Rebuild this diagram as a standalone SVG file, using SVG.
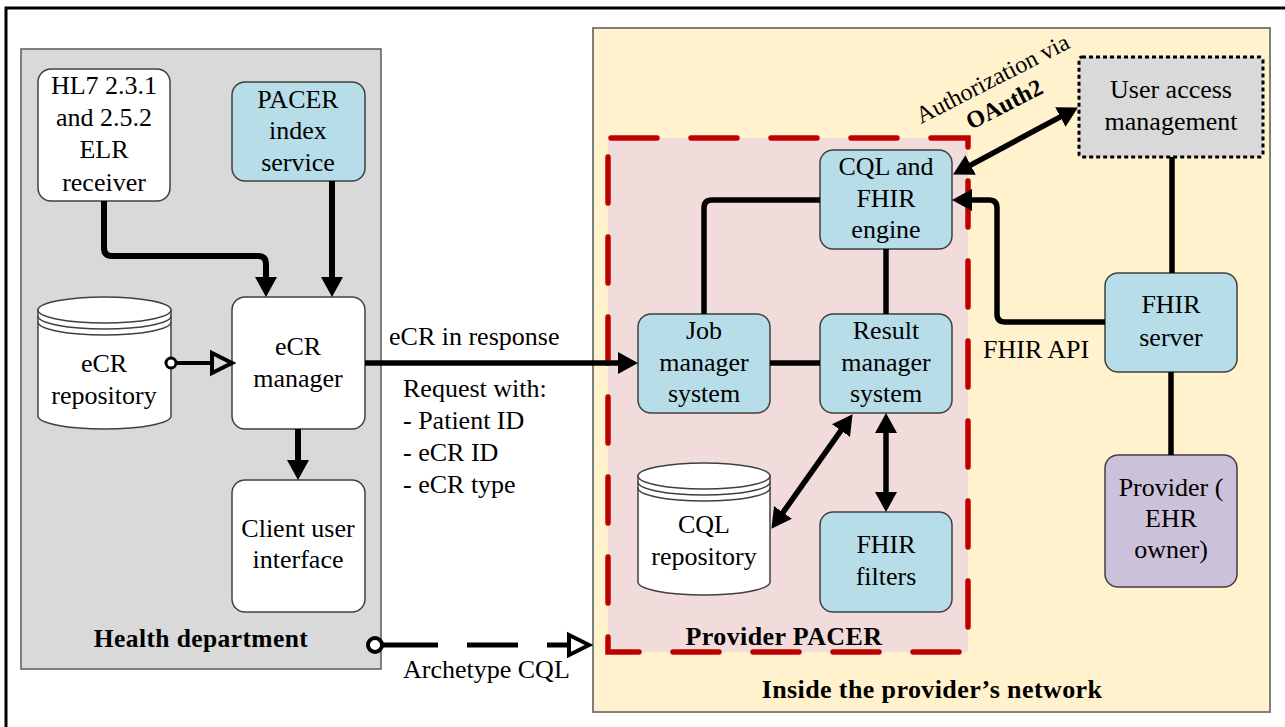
<svg xmlns="http://www.w3.org/2000/svg" width="1285" height="727" viewBox="0 0 1285 727" font-family="'Liberation Serif', 'Tinos', 'Times New Roman', serif">
<style>
text{font-family:'Liberation Serif','Tinos','Times New Roman',serif;font-size:26px;fill:#000}
.c{text-anchor:middle}
.b{font-weight:bold;letter-spacing:0.4px}
.node{stroke:#404040;stroke-width:1.5}
.blue{fill:#b7dde8}
.white{fill:#fff}
.conn{fill:none;stroke:#000;stroke-width:5.5}
</style>
<defs>
<marker id="ah" markerUnits="userSpaceOnUse" viewBox="0 0 20 22" refX="9" refY="11" markerWidth="20" markerHeight="22" orient="auto-start-reverse">
<path d="M0,0 L20,11 L0,22 z" fill="#000"/>
</marker>
<marker id="open" markerUnits="userSpaceOnUse" viewBox="-3 -3 27 28" refX="0" refY="11" markerWidth="27" markerHeight="28" orient="auto">
<path d="M0,1 L20,11 L0,21 z" fill="none" stroke="#000" stroke-width="4" stroke-linejoin="miter"/>
</marker>
</defs>
<rect x="6" y="8" width="1300" height="800" fill="#fff" stroke="#000" stroke-width="3"/>
<g id="health-department">
<rect x="21" y="49" width="360" height="620" fill="#d9d9d9" stroke="#595959" stroke-width="1.5"/>
<text class="c b" x="201" y="647" style="font-size:25.5px">Health department</text>
</g>
<g id="provider-network">
<rect x="593" y="28" width="677" height="684" fill="#fff2cc" stroke="#7f7f7f" stroke-width="2"/>
<text class="c b" x="932" y="698">Inside the provider’s network</text>
</g>
<g id="provider-pacer">
<rect x="608" y="138" width="360" height="514" fill="#f2dcdb"/>
<rect x="608" y="138" width="360" height="514" fill="none" stroke="#c00000" stroke-width="5.5" stroke-dasharray="46 34" stroke-dashoffset="-3" stroke-linecap="round"/>
<text class="c b" x="784" y="645">Provider PACER</text>
</g>
<g id="hl7-receiver">
<rect class="node white" x="38" y="69" width="132" height="132" rx="13"/>
<text class="c" x="104" y="94">HL7 2.3.1</text>
<text class="c" x="104" y="126">and 2.5.2</text>
<text class="c" x="104" y="158">ELR</text>
<text class="c" x="104" y="191">receiver</text>
</g>
<g id="pacer-index-service">
<rect class="node blue" x="232" y="82" width="133" height="99" rx="13"/>
<text class="c" x="298" y="108">PACER</text>
<text class="c" x="298" y="139">index</text>
<text class="c" x="298" y="171">service</text>
</g>
<g id="ecr-repository">
<path class="node white" d="M38,310 V416 A66.5,13 0 0 0 171,416 V310 z"/>
<ellipse class="node white" cx="104.5" cy="310" rx="66.5" ry="13"/>
<path d="M38,316 A66.5,13 0 0 0 171,316 M38,322 A66.5,13 0 0 0 171,322" fill="none" stroke="#404040" stroke-width="1.5"/>
<text class="c" x="104" y="372">eCR</text>
<text class="c" x="104" y="404">repository</text>
</g>
<g id="ecr-manager">
<rect class="node white" x="232" y="297" width="133" height="132" rx="13"/>
<text class="c" x="298" y="355">eCR</text>
<text class="c" x="298" y="387">manager</text>
</g>
<g id="client-ui">
<rect class="node white" x="232" y="480" width="133" height="132" rx="13"/>
<text class="c" x="298" y="537">Client user</text>
<text class="c" x="298" y="568">interface</text>
</g>
<g id="cql-fhir-engine">
<rect class="node blue" x="820" y="150" width="132" height="99" rx="13"/>
<text class="c" x="886" y="175">CQL and</text>
<text class="c" x="886" y="207">FHIR</text>
<text class="c" x="886" y="238">engine</text>
</g>
<g id="job-manager">
<rect class="node blue" x="638" y="314" width="132" height="99" rx="13"/>
<text class="c" x="704" y="339">Job</text>
<text class="c" x="704" y="371">manager</text>
<text class="c" x="704" y="402">system</text>
</g>
<g id="result-manager">
<rect class="node blue" x="820" y="314" width="132" height="99" rx="13"/>
<text class="c" x="886" y="339">Result</text>
<text class="c" x="886" y="371">manager</text>
<text class="c" x="886" y="402">system</text>
</g>
<g id="cql-repository">
<path class="node white" d="M638,476 V582 A66,13 0 0 0 770,582 V476 z"/>
<ellipse class="node white" cx="704" cy="476" rx="66" ry="13"/>
<path d="M638,482 A66,13 0 0 0 770,482 M638,488 A66,13 0 0 0 770,488" fill="none" stroke="#404040" stroke-width="1.5"/>
<text class="c" x="704" y="533">CQL</text>
<text class="c" x="704" y="565">repository</text>
</g>
<g id="fhir-filters">
<rect class="node blue" x="820" y="512" width="132" height="100" rx="13"/>
<text class="c" x="886" y="553">FHIR</text>
<text class="c" x="886" y="585">filters</text>
</g>
<g id="user-access-management">
<rect x="1079" y="57" width="184" height="100" rx="3" fill="#d9d9d9" stroke="#000" stroke-width="3" stroke-dasharray="4 3"/>
<text class="c" x="1171" y="98">User access</text>
<text class="c" x="1171" y="130">management</text>
</g>
<g id="fhir-server">
<rect class="node blue" x="1105" y="273" width="132" height="99" rx="13"/>
<text class="c" x="1171" y="313">FHIR</text>
<text class="c" x="1171" y="346">server</text>
</g>
<g id="provider-ehr-owner">
<rect class="node" x="1105" y="455" width="132" height="132" rx="13" fill="#ccc1da"/>
<text class="c" x="1171" y="496">Provider (</text>
<text class="c" x="1171" y="527">EHR</text>
<text class="c" x="1171" y="558">owner)</text>
</g>
<g id="connectors">
<path class="conn" style="stroke-width:6" d="M104,201 V248 Q104,256 112,256 H258 Q266,256 266,264 V286" marker-end="url(#ah)"/>
<path class="conn" style="stroke-width:6" d="M332,181 V286" marker-end="url(#ah)"/>
<path class="conn" style="stroke-width:4" d="M171,363 H212" marker-end="url(#open)"/>
<circle cx="171" cy="363" r="5" fill="#fff" stroke="#000" stroke-width="3"/>
<path class="conn" style="stroke-width:6" d="M298,429 V469" marker-end="url(#ah)"/>
<path class="conn" d="M365,363 H627" marker-end="url(#ah)"/>
<path class="conn" style="stroke-width:5" d="M375,645 H569" stroke-dasharray="63 29 51 29" marker-end="url(#open)"/>
<circle cx="375" cy="645" r="7" fill="#fff" stroke="#000" stroke-width="4"/>
<path class="conn" d="M820,200 H712 Q704,200 704,208 V314"/>
<path class="conn" d="M886,249 V314"/>
<path class="conn" d="M770,363 H820"/>
<path class="conn" d="M846.2,423.2 L777.8,519.8" marker-start="url(#ah)" marker-end="url(#ah)"/>
<path class="conn" d="M886,424 V501" marker-start="url(#ah)" marker-end="url(#ah)"/>
<path class="conn" d="M962.7,169.3 L1068.3,112.7" marker-start="url(#ah)" marker-end="url(#ah)"/>
<path class="conn" d="M1105,322 H1005 Q997,322 997,314 V208 Q997,200 989,200 H963" marker-end="url(#ah)"/>
<path class="conn" d="M1172,157 V273"/>
<path class="conn" d="M1171,372 V455"/>
</g>
<g id="labels">
<text x="389" y="345">eCR in response</text>
<text x="403" y="397">Request with:</text>
<text x="403" y="429">- Patient ID</text>
<text x="403" y="461">- eCR ID</text>
<text x="403" y="493">- eCR type</text>
<text x="403" y="678">Archetype CQL</text>
<text x="983" y="358">FHIR API</text>
<text x="921" y="124" transform="rotate(-27 921 124)" style="font-size:24px">Authorization via</text>
<text x="971" y="130" transform="rotate(-27 971 130)" style="font-size:24px;font-weight:bold">OAuth2</text>
</g>
</svg>
